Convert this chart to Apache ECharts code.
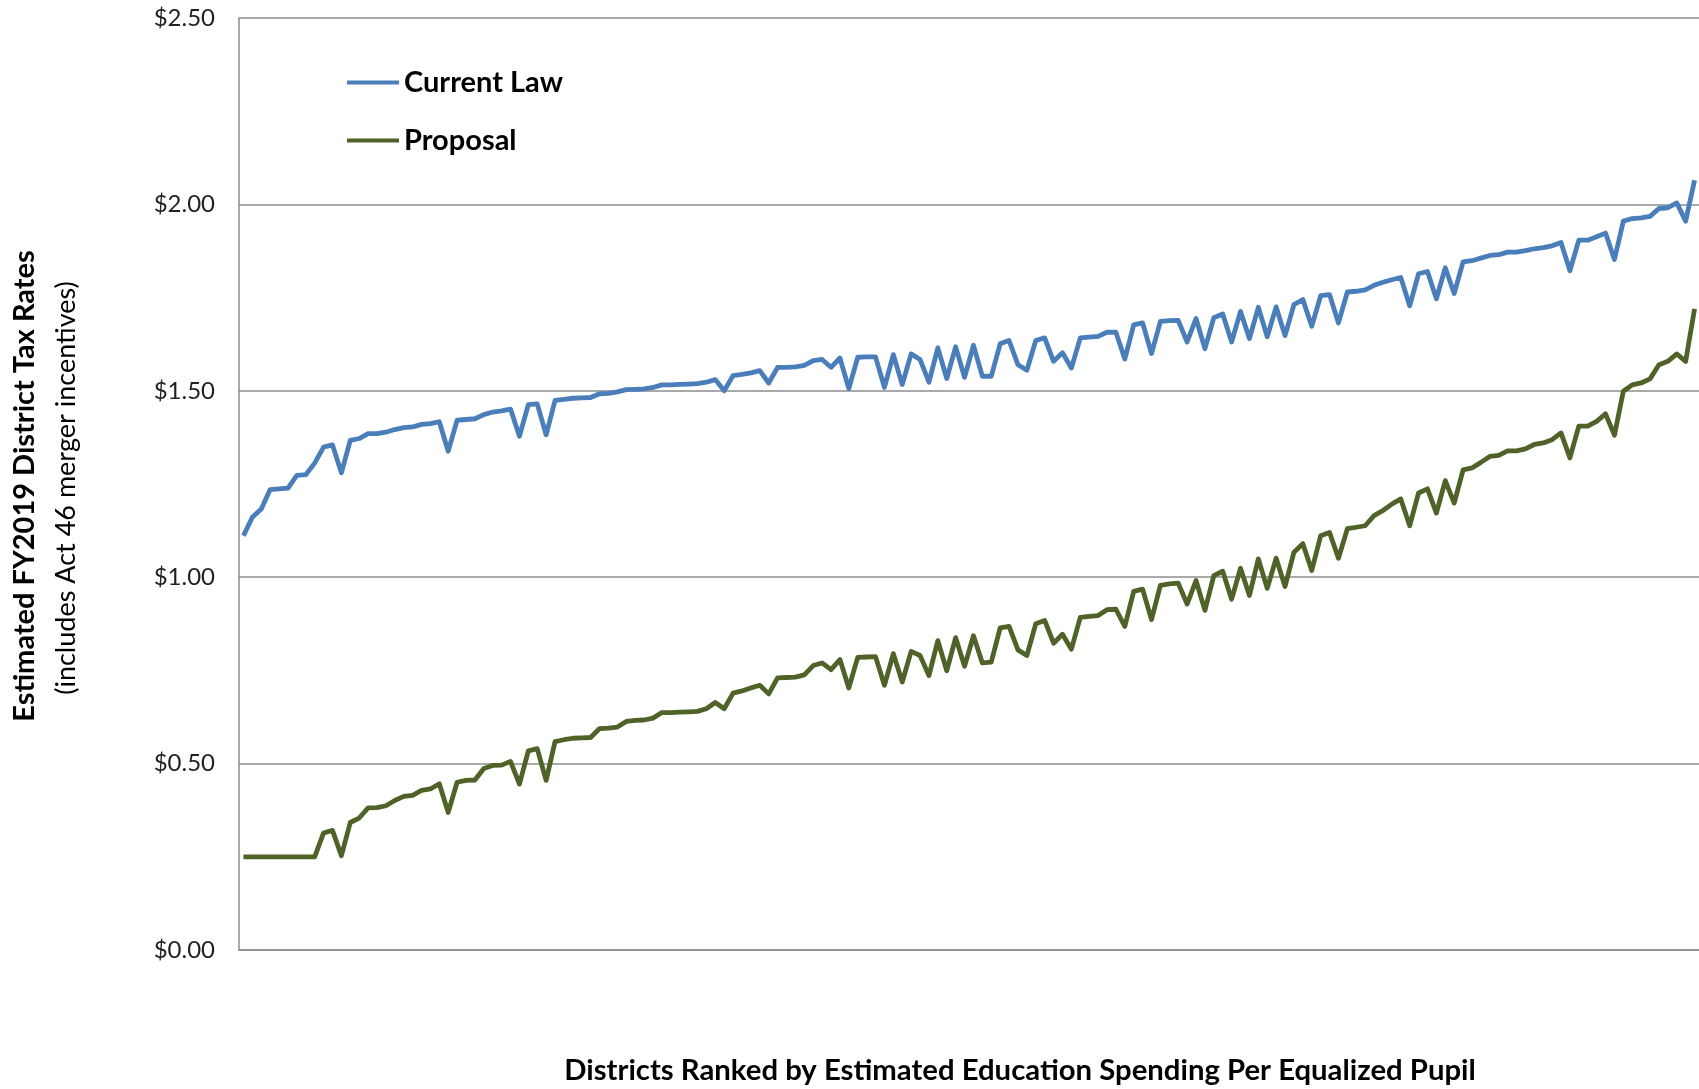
<!DOCTYPE html>
<html>
<head>
  <meta charset="utf-8">
  <title>ECharts</title>
  <script src="https://cdn.jsdelivr.net/npm/echarts@6/dist/echarts.min.js"></script>
</head>
<body style="margin:0">
<div id="main" style="width: 1699px;height:1089px;"></div>
<script type="text/javascript">
  // districts ranked left to right
  var currentLaw = [
    1.111, 1.161, 1.183, 1.235, 1.237, 1.239, 1.273, 1.275, 1.306, 1.349,
    1.355, 1.280, 1.367, 1.372, 1.385, 1.385, 1.389, 1.396, 1.401, 1.403,
    1.410, 1.412, 1.417, 1.338, 1.421, 1.423, 1.425, 1.436, 1.443, 1.446,
    1.451, 1.378, 1.463, 1.465, 1.382, 1.474, 1.477, 1.480, 1.481, 1.482,
    1.492, 1.493, 1.497, 1.503, 1.504, 1.505, 1.509, 1.516, 1.516, 1.517,
    1.518, 1.519, 1.523, 1.530, 1.500, 1.541, 1.544, 1.548, 1.554, 1.521,
    1.563, 1.563, 1.564, 1.568, 1.581, 1.584, 1.563, 1.588, 1.506, 1.590,
    1.591, 1.591, 1.509, 1.597, 1.517, 1.599, 1.584, 1.523, 1.615, 1.533,
    1.618, 1.536, 1.622, 1.539, 1.539, 1.626, 1.635, 1.570, 1.555, 1.635,
    1.642, 1.579, 1.602, 1.561, 1.642, 1.644, 1.646, 1.657, 1.657, 1.585,
    1.677, 1.682, 1.600, 1.686, 1.688, 1.689, 1.631, 1.694, 1.613, 1.696,
    1.706, 1.631, 1.713, 1.640, 1.724, 1.645, 1.725, 1.648, 1.731, 1.745,
    1.673, 1.755, 1.758, 1.682, 1.765, 1.767, 1.771, 1.783, 1.791, 1.798,
    1.804, 1.728, 1.814, 1.820, 1.747, 1.830, 1.761, 1.846, 1.849, 1.856,
    1.863, 1.865, 1.872, 1.872, 1.876, 1.881, 1.884, 1.889, 1.898, 1.822,
    1.904, 1.904, 1.913, 1.923, 1.852, 1.955, 1.962, 1.964, 1.968, 1.989,
    1.991, 2.004, 1.955, 2.065
  ];
  var proposal = [
    0.250, 0.250, 0.250, 0.250, 0.250, 0.250, 0.250, 0.250, 0.250, 0.314,
    0.321, 0.253, 0.342, 0.354, 0.381, 0.382, 0.387, 0.401, 0.412, 0.415,
    0.428, 0.432, 0.446, 0.369, 0.450, 0.455, 0.456, 0.487, 0.495, 0.496,
    0.506, 0.445, 0.534, 0.540, 0.455, 0.559, 0.564, 0.568, 0.569, 0.570,
    0.594, 0.595, 0.598, 0.613, 0.616, 0.617, 0.622, 0.637, 0.637, 0.638,
    0.639, 0.640, 0.647, 0.664, 0.647, 0.689, 0.695, 0.703, 0.710, 0.687,
    0.730, 0.731, 0.732, 0.738, 0.763, 0.770, 0.752, 0.779, 0.703, 0.785,
    0.786, 0.787, 0.710, 0.795, 0.719, 0.801, 0.790, 0.736, 0.830, 0.749,
    0.838, 0.761, 0.843, 0.770, 0.772, 0.864, 0.868, 0.805, 0.790, 0.875,
    0.884, 0.823, 0.847, 0.807, 0.892, 0.895, 0.897, 0.913, 0.914, 0.868,
    0.962, 0.968, 0.886, 0.978, 0.982, 0.984, 0.928, 0.991, 0.911, 1.004,
    1.016, 0.941, 1.024, 0.951, 1.049, 0.970, 1.051, 0.975, 1.067, 1.090,
    1.018, 1.111, 1.120, 1.051, 1.130, 1.134, 1.138, 1.165, 1.179, 1.196,
    1.210, 1.138, 1.226, 1.237, 1.172, 1.259, 1.199, 1.288, 1.293, 1.308,
    1.324, 1.327, 1.339, 1.339, 1.344, 1.356, 1.360, 1.369, 1.387, 1.320,
    1.405, 1.405, 1.418, 1.438, 1.381, 1.499, 1.516, 1.521, 1.532, 1.570,
    1.579, 1.599, 1.579, 1.720
  ];
  var districts = currentLaw.map(function (v, i) { return 'District ' + (i + 1); });
  var seriesNames = ['Current Law', 'Proposal'];
  var yMin = 0, yMax = 2.5, yStep = 0.5;

  var font = 'Lato, "Open Sans", sans-serif';
  var gridColor = '#8c8c8c';

  var myChart = echarts.init(document.getElementById('main'));

  var option = {
    backgroundColor: '#ffffff',
    animation: false,
    grid: { left: 239, top: 18, right: -3, bottom: 139, containLabel: false },
    legend: {
      data: seriesNames,
      orient: 'vertical',
      left: 347,
      top: 68,
      padding: 0,
      itemWidth: 52,
      itemHeight: 4,
      itemGap: 29,
      icon: 'rect',
      textStyle: { fontFamily: font, fontWeight: 'bold', fontSize: 29, color: '#000' }
    },
    xAxis: {
      type: 'category',
      data: districts,
      boundaryGap: true,
      axisLine: { show: true, lineStyle: { color: gridColor, width: 1.5 } },
      axisTick: { show: false },
      axisLabel: { show: false },
      splitLine: { show: false }
    },
    yAxis: {
      type: 'value',
      min: yMin,
      max: yMax,
      interval: yStep,
      axisLine: { show: true, lineStyle: { color: gridColor, width: 1.5 } },
      axisTick: { show: false },
      axisLabel: {
        margin: 24,
        fontFamily: font,
        fontSize: 24,
        color: '#222',
        formatter: function (v) { return '$' + v.toFixed(2); }
      },
      splitLine: { show: true, lineStyle: { color: gridColor, width: 1.5 } }
    },
    graphic: [
      {
        type: 'text', x: 25, y: 486, rotation: Math.PI / 2,
        style: {
          text: 'Estimated FY2019 District Tax Rates',
          font: 'bold 29px ' + font, fill: '#000',
          textAlign: 'center', textVerticalAlign: 'middle'
        }
      },
      {
        type: 'text', x: 66, y: 488, rotation: Math.PI / 2,
        style: {
          text: '(includes Act 46 merger incentives)',
          font: '27px ' + font, fill: '#000',
          textAlign: 'center', textVerticalAlign: 'middle'
        }
      },
      {
        type: 'text', x: 1020, y: 1071,
        style: {
          text: 'Districts Ranked by Estimated Education Spending Per Equalized Pupil',
          font: 'bold 29.3px ' + font, fill: '#000',
          textAlign: 'center', textVerticalAlign: 'middle'
        }
      }
    ],
    series: [
      {
        name: seriesNames[0],
        type: 'line',
        data: currentLaw,
        symbol: 'none',
        color: '#4a7ebb',
        lineStyle: { width: 4.8, color: '#4a7ebb', join: 'round' }
      },
      {
        name: seriesNames[1],
        type: 'line',
        data: proposal,
        symbol: 'none',
        color: '#4f6228',
        lineStyle: { width: 4.8, color: '#4f6228', join: 'round' }
      }
    ]
  };

  myChart.setOption(option);
</script>
</body>
</html>
